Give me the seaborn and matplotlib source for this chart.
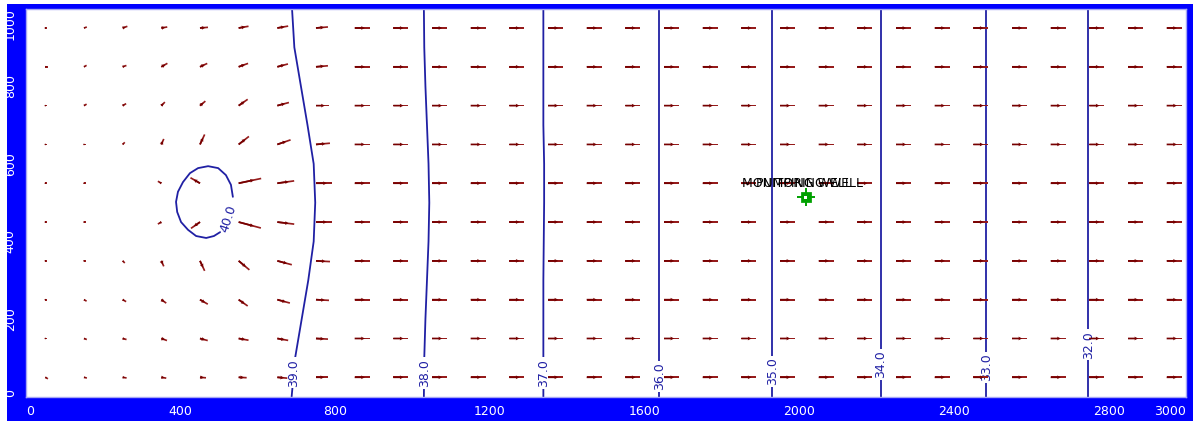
import matplotlib
matplotlib.use("Agg")
import numpy as np
import pandas as pd
import matplotlib.pyplot as plt
import seaborn as sns
from matplotlib.patches import Rectangle

# ---- axis ticks -------------------------------------------------------
X_TICKS = [0, 400, 800, 1200, 1600, 2000, 2400, 2800, 3000]
Y_TICKS = [0, 200, 400, 600, 800, 1000]

# ---- head contours (x position of each line at the listed y values) ----
CONTOUR_Y = [0, 100, 200, 300, 400, 500, 600, 700, 800, 900, 1000]
CONTOUR_LEVELS = [39.0, 38.0, 37.0, 36.0, 35.0, 34.0, 33.0, 32.0]
CONTOUR_XS = [
    [687, 696, 713, 730, 744, 748, 744, 728, 711, 694, 688],
    [1029, 1030, 1033, 1037, 1041, 1043, 1041, 1037, 1033, 1030, 1029],
    [1338, 1338, 1338, 1338, 1339, 1340, 1340, 1338, 1338, 1338, 1338],
    [1638, 1638, 1638, 1638, 1638, 1638, 1638, 1638, 1638, 1638, 1638],
    [1930, 1930, 1930, 1930, 1930, 1930, 1930, 1930, 1930, 1930, 1930],
    [2210, 2210, 2210, 2210, 2210, 2210, 2210, 2210, 2210, 2210, 2210],
    [2484, 2484, 2484, 2484, 2484, 2484, 2484, 2484, 2484, 2484, 2484],
    [2747, 2747, 2747, 2747, 2747, 2747, 2747, 2747, 2747, 2747, 2747],
]
# label anchor height for each straight contour
CONTOUR_LABEL_Y = [62, 61, 61, 53, 66, 84, 76, 134]

# closed 40.0 contour around the injection mound (open where the label sits)
MOUND_LEVEL = 40.0
MOUND_X = [535, 530, 517, 497, 471, 445, 424, 406, 393, 388, 391, 401, 419,
           440, 466, 486, 502]
MOUND_Y = [515, 546, 571, 589, 594, 589, 576, 553, 528, 502, 476, 450, 430,
           414, 409, 414, 424]
MOUND_LABEL_XY = (524, 458)

# ---- velocity vectors ---------------------------------------------------
GRID_X = [50, 150, 250, 350, 450, 550, 650, 750, 850, 950, 1050, 1150, 1250,
          1350, 1450, 1550, 1650, 1750, 1850, 1950, 2050, 2150, 2250, 2350,
          2450, 2550, 2650, 2750, 2850, 2950]
GRID_Y = [950, 850, 750, 650, 550, 450, 350, 250, 150, 50]

# magnitude (screen length) and direction (deg) in the first eight columns
NEAR_LEN = [
    [2, 3, 5, 6, 8, 10, 11, 12],
    [3, 3, 4, 7, 8, 10, 11, 12],
    [2, 3, 4, 5, 7, 11, 12, 13],
    [2, 2, 3, 6, 11, 13, 14, 14],
    [2, 2, 0, 4, 11, 23, 17, 16],
    [2, 2, 0, 4, 11, 23, 17, 16],
    [2, 2, 3, 6, 11, 14, 15, 14],
    [2, 3, 4, 6, 9, 11, 13, 13],
    [2, 3, 4, 6, 8, 10, 11, 12],
    [3, 3, 4, 5, 6, 8, 10, 12],
]
NEAR_ANG = [
    [0, 20, 20, 10, 5, 10, 10, 5],
    [0, 30, 20, 30, 25, 20, 15, 5],
    [0, 30, 30, 45, 40, 35, 15, 0],
    [0, 0, 45, 66, 65, 38, 19, 5],
    [0, 0, 0, 150, 150, 12, 8, 0],
    [0, 0, 0, 210, 215, -15, -7, 0],
    [0, 0, -45, -66, -65, -40, -15, -3],
    [0, -30, -30, -35, -30, -35, -15, -3],
    [0, -20, -15, -20, -15, -10, -10, -3],
    [-30, -15, -10, -10, -5, -3, -5, 0],
]
FAR_LEN = 15
FAR_ANG = 0

# ---- wells ----------------------------------------------------------------
WELL_NAMES = ["MONITORING WELL", "PUMPING WELL"]
WELL_X = [2012, 2016]
WELL_Y = [514, 514]

# ---- styling ----------------------------------------------------------------
FRAME_BLUE = "#0000FF"
LINE_BLUE = "#2020A4"
ARROW_RED = "#961C1C"
HEAD_RED = "#760000"
WELL_GREEN = "#00A000"

sns.set_style("white")
plt.rcParams["font.family"] = ["DejaVu Sans"]

W, H = 1196, 421
fig = plt.figure(figsize=(W / 100, H / 100), dpi=100)
fig.patch.set_facecolor("white")
frame = Rectangle((7 / W, 0), (1193 - 7) / W, (H - 4) / H,
                  transform=fig.transFigure, facecolor=FRAME_BLUE,
                  edgecolor="none", zorder=-10)
fig.add_artist(frame)

ax = fig.add_axes([26 / W, (H - 396.7) / H, 1160 / W, 388.1 / H])
ax.set_zorder(5)
ax.set_facecolor("white")
ax.set_xlim(0, 3000)
ax.set_ylim(0, 1000)

# contour lines
rows = []
for lvl, xs in zip(CONTOUR_LEVELS, CONTOUR_XS):
    for i, (x, y) in enumerate(zip(xs, CONTOUR_Y)):
        rows.append({"level": lvl, "order": i, "x": x, "y": y})
for i, (x, y) in enumerate(zip(MOUND_X, MOUND_Y)):
    rows.append({"level": MOUND_LEVEL, "order": i, "x": x, "y": y})
contours = pd.DataFrame(rows)
sns.lineplot(data=contours, x="x", y="y", units="level", estimator=None,
             sort=False, color=LINE_BLUE, linewidth=1.3, ax=ax, zorder=1,
             legend=False)

for lvl, xs, ly in zip(CONTOUR_LEVELS, CONTOUR_XS, CONTOUR_LABEL_Y):
    lx = np.interp(ly, CONTOUR_Y, xs)
    ax.text(lx, ly, f"{lvl:.1f}", rotation=90, ha="center", va="center",
            color=LINE_BLUE, fontsize=9, zorder=2,
            bbox=dict(facecolor="white", edgecolor="none", pad=1.2))
ax.text(MOUND_LABEL_XY[0], MOUND_LABEL_XY[1], f"{MOUND_LEVEL:.1f}",
        rotation=72, ha="center", va="center", color=LINE_BLUE, fontsize=9,
        zorder=2)

# velocity vectors
gx, gy, lens, angs = [], [], [], []
for r, yv in enumerate(GRID_Y):
    for c, xv in enumerate(GRID_X):
        if c < len(NEAR_LEN[r]):
            L, A = NEAR_LEN[r][c], NEAR_ANG[r][c]
        else:
            L, A = FAR_LEN, FAR_ANG
        if L <= 0:
            continue
        gx.append(xv)
        gy.append(yv)
        lens.append(L)
        angs.append(A)
gx, gy = np.array(gx), np.array(gy)
lens, angs = np.array(lens, float), np.radians(np.array(angs, float))
U, V = lens * np.cos(angs), lens * np.sin(angs)

ax.quiver(gx, gy, U, V, angles="uv", scale_units="dots", scale=1,
          pivot="tail", units="dots", width=1.7, headwidth=0, headlength=0,
          headaxislength=0, color=ARROW_RED, zorder=3)
ax.quiver(gx, gy, U * 0.68, V * 0.68, angles="uv", scale_units="dots",
          scale=1, pivot="tail", units="dots", width=1.7, headwidth=2.2,
          headlength=2.2, headaxislength=2.0, color=HEAD_RED, zorder=4)

# wells
sns.scatterplot(x=WELL_X[-1:], y=WELL_Y[-1:], marker="+", s=170,
                color=WELL_GREEN, linewidth=1.4, ax=ax, zorder=5,
                legend=False)
sns.scatterplot(x=WELL_X[-1:], y=WELL_Y[-1:], marker="s", s=45,
                color=WELL_GREEN, edgecolor=WELL_GREEN, ax=ax, zorder=6,
                legend=False)
sns.scatterplot(x=WELL_X[-1:], y=WELL_Y[-1:], marker="s", s=5, color="white",
                edgecolor="none", ax=ax, zorder=7, legend=False)
for name, x, y in zip(WELL_NAMES, WELL_X, WELL_Y):
    ax.annotate(name, (x, y), xytext=(-1, 10), textcoords="offset points",
                ha="center", va="center", fontsize=9, color="black",
                zorder=8)

# axes frame and ticks
ax.set_xlabel("")
ax.set_ylabel("")
for sp in ax.spines.values():
    sp.set_color("#A8A8F4")
    sp.set_linewidth(1.0)
ax.set_xticks(X_TICKS)
ax.set_xticklabels([str(t) for t in X_TICKS])
ax.set_yticks(Y_TICKS)
ax.set_yticklabels([str(t) for t in Y_TICKS])
ax.tick_params(axis="x", colors="white", direction="out", length=3.6,
               width=1, pad=2.5, labelsize=9)
ax.tick_params(axis="y", colors="white", direction="out", length=5.8,
               width=1, pad=0.8, labelsize=9, labelrotation=90)
xl = ax.get_xticklabels()
xl[0].set_ha("left")
xl[-1].set_ha("right")
for t in ax.get_yticklabels():
    t.set_va("center")
yl = ax.get_yticklabels()
yl[0].set_va("bottom")
yl[-1].set_va("top")

fig.savefig("out.png", dpi=100, facecolor=fig.get_facecolor())
